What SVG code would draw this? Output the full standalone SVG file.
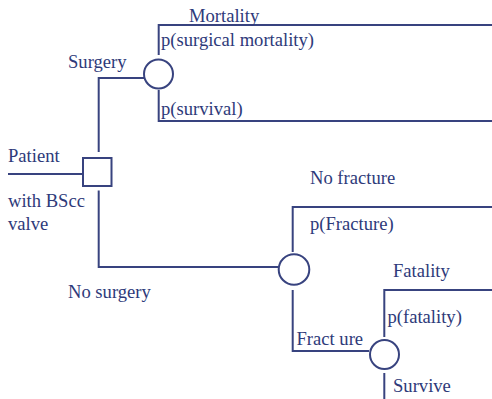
<svg xmlns="http://www.w3.org/2000/svg" width="492" height="399" viewBox="0 0 492 399">
<style>
.ln{fill:none;stroke:#38437f;stroke-width:2}
.nd{fill:#fff;stroke:#38437f;stroke-width:2}
text{font-family:"Liberation Serif","Times New Roman",serif;font-size:18.6px;fill:#2e3a7a}
</style>
<rect width="492" height="399" fill="#fff"/>
<g id="connectors">
<path class="ln" d="M8 174H83"/>
<path class="ln" d="M98.7 152V78H144"/>
<path class="ln" d="M98.7 190.5V267H278"/>
<path class="ln" d="M158.7 55V25H492"/>
<path class="ln" d="M158.7 90V121H492"/>
<path class="ln" d="M292.7 252V207H492"/>
<path class="ln" d="M292.7 290V351H369"/>
<path class="ln" d="M384.3 337V290H492"/>
<path class="ln" d="M384.3 373V399"/>
</g>
<g id="decision"><rect class="nd" x="83" y="158" width="28.5" height="28"/></g>
<g id="chance-surgery"><circle class="nd" cx="158.5" cy="74" r="14.5"/></g>
<g id="chance-nosurgery"><circle class="nd" cx="294" cy="269.5" r="15.3"/></g>
<g id="chance-fracture"><circle class="nd" cx="384.5" cy="354.5" r="14.5"/></g>
<g id="labels">
<text x="8" y="162">Patient</text>
<text x="8" y="207">with BScc</text>
<text x="8" y="230">valve</text>
<text x="68" y="68">Surgery</text>
<text x="68" y="298">No surgery</text>
<text x="189" y="22">Mortality</text>
<text x="161" y="46">p(surgical mortality)</text>
<text x="161" y="115">p(survival)</text>
<text x="310" y="184">No fracture</text>
<text x="310" y="230">p(Fracture)</text>
<text x="296.5" y="345">Fract ure</text>
<text x="393" y="277">Fatality</text>
<text x="387.5" y="323">p(fatality)</text>
<text x="393" y="392">Survive</text>
</g>
</svg>
